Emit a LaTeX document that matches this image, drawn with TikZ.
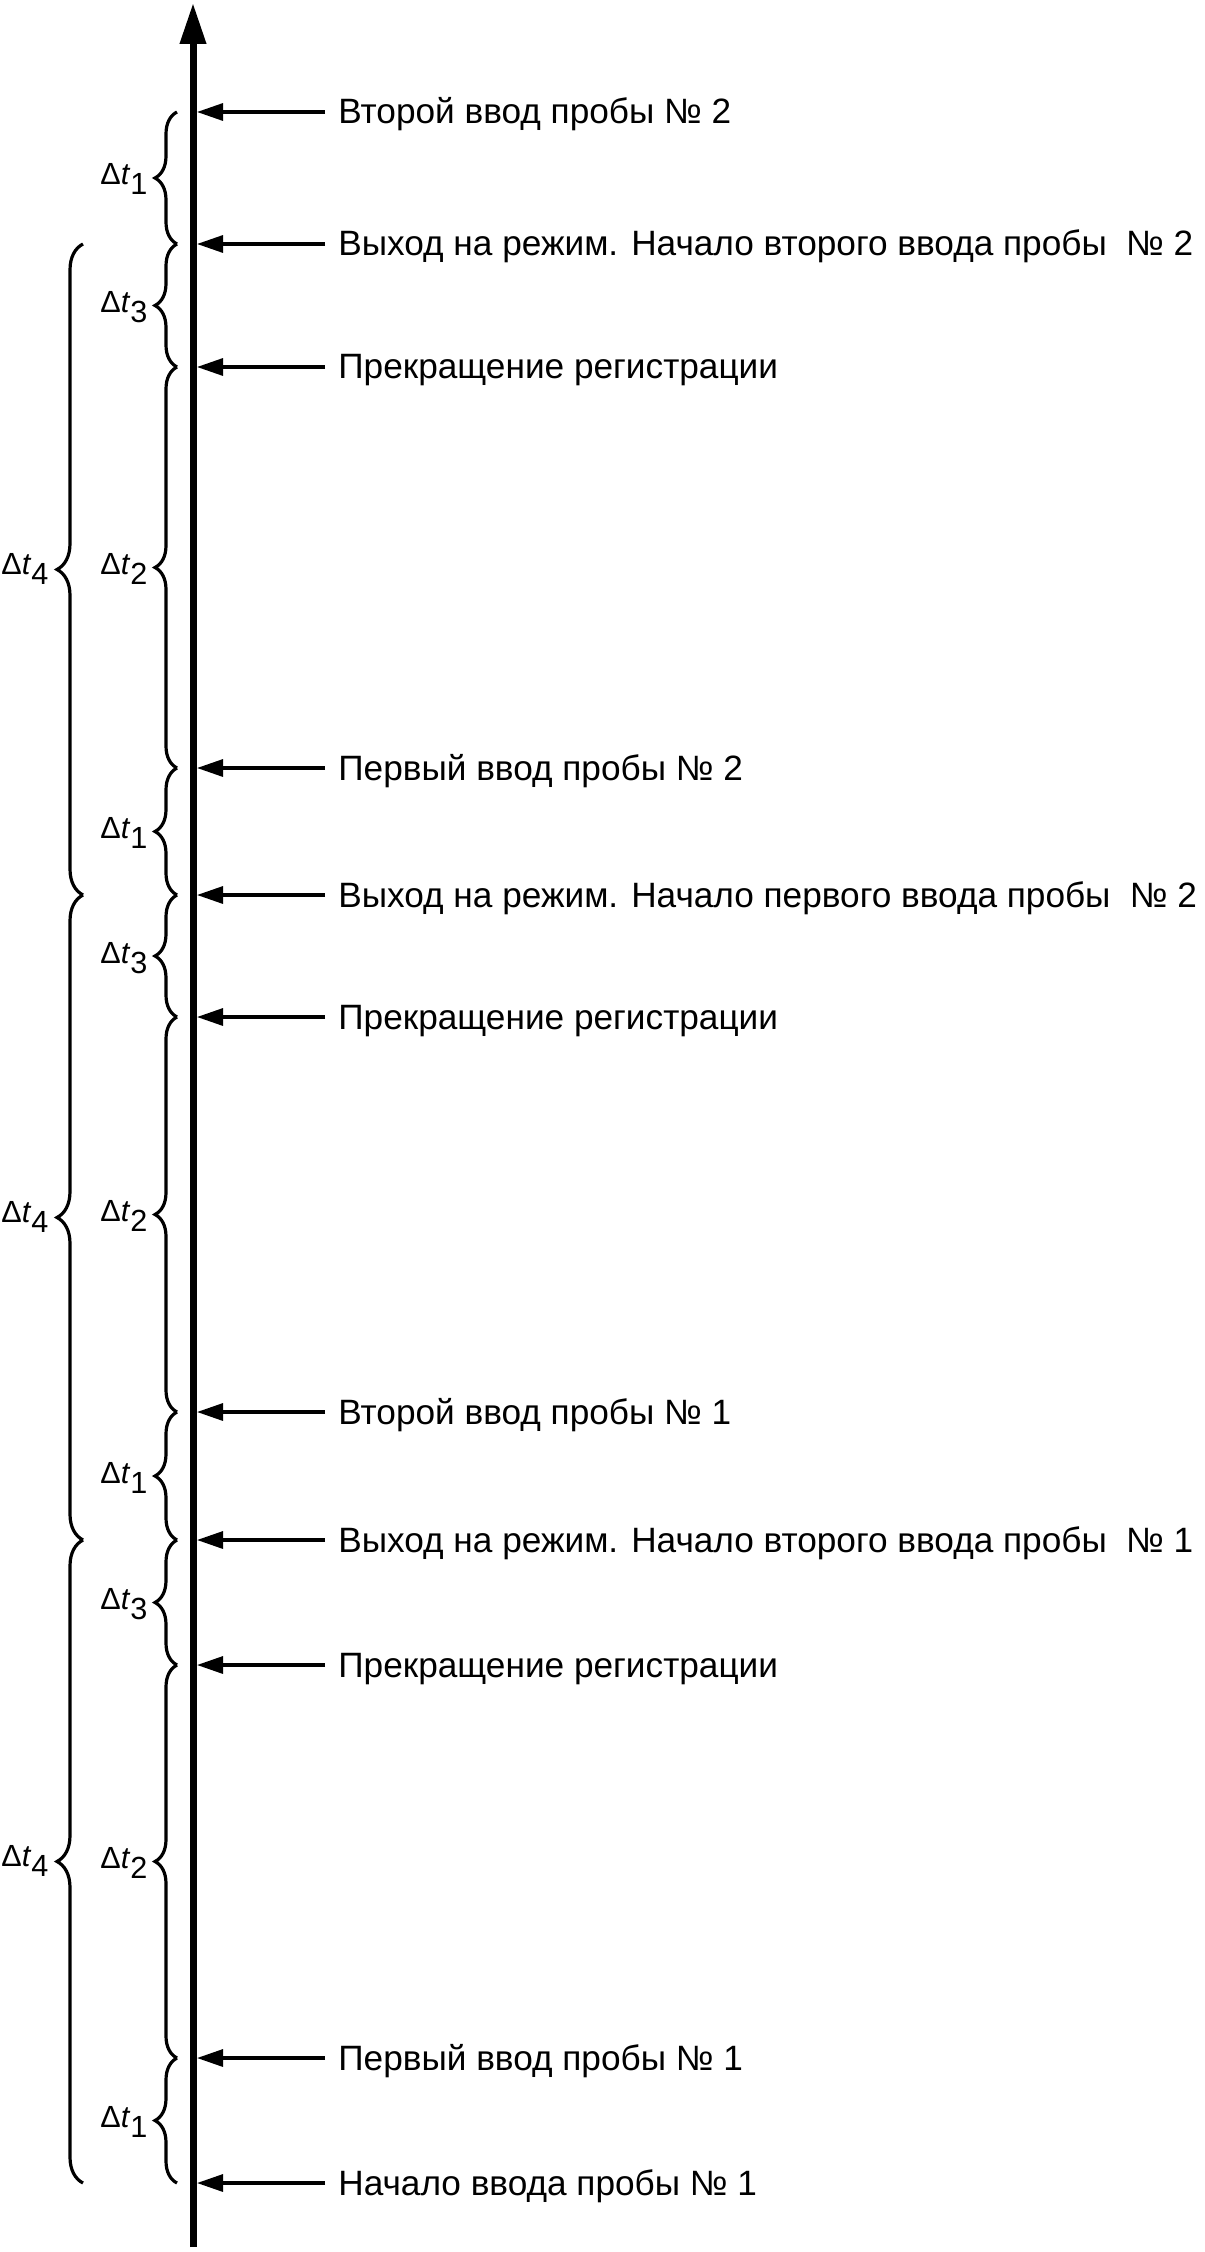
\documentclass[tikz,border=0pt]{standalone}
\usepackage{fontspec}
\setmainfont{Liberation Sans}
\usetikzlibrary{arrows.meta,positioning,decorations.pathreplacing,calc}

\begin{document}
\begin{tikzpicture}[x=0.5pt,y=-0.5pt,
  axisline/.style={line width=3.5pt, -{Triangle[length=20.5pt,width=12.5pt]}},
  evarrow/.style={line width=1.6pt, -{Triangle[length=13pt,width=8.5pt]}},
  evtext/.style={anchor=base west, inner xsep=6.5pt, inner ysep=0pt, font=\fontsize{17.6}{21}\selectfont},
  brc/.style={decorate, decoration={brace, amplitude=11pt}, line width=1.6pt},
  brcout/.style={decorate, decoration={brace, amplitude=13pt}, line width=1.6pt},
  dtlabel/.style={anchor=base east, inner sep=0pt, font=\fontsize{15.3}{18}\selectfont}]
  \useasboundingbox (0,0) rectangle (1204,2252);

  % Time axis
  \draw[axisline] (193,2247) -- (193,3);

  % Events
  \foreach \i/\y/\txt in {
    1/112/{Второй ввод пробы № 2},
    2/244/{Выход на режим. Начало второго ввода пробы\hspace{0.55em}№ 2},
    3/367/{Прекращение регистрации},
    4/768/{Первый ввод пробы № 2},
    5/895/{Выход на режим. Начало первого ввода пробы\hspace{0.55em}№ 2},
    6/1017/{Прекращение регистрации},
    7/1412/{Второй ввод пробы № 1},
    8/1540/{Выход на режим. Начало второго ввода пробы\hspace{0.55em}№ 1},
    9/1665/{Прекращение регистрации},
    10/2058/{Первый ввод пробы № 1},
    11/2183/{Начало ввода пробы № 1}} {
    \coordinate (t\i) at (197,\y);
    \coordinate (b\i) at (177,\y);
    \coordinate (c\i) at (83,\y);
    \node[evtext] (e\i) at (325,\y+12) {\txt};
    \draw[evarrow] (e\i.base west |- t\i) -- (t\i);
  }

  % Short intervals
  \foreach \a/\b/\k in {2/1/1, 3/2/3, 4/3/2, 5/4/1, 6/5/3, 7/6/2, 8/7/1, 9/8/3, 10/9/2, 11/10/1}
    \draw[brc] (b\a) -- (b\b)
      node[dtlabel, midway, xshift=-14pt, yshift=-3.5pt] {Δ\textit{t}\raisebox{-5pt}{\k}};

  % Full cycles
  \foreach \a/\b in {5/2, 8/5, 11/8}
    \draw[brcout] (c\a) -- (c\b)
      node[dtlabel, midway, xshift=-16.5pt, yshift=-2.5pt] {Δ\textit{t}\raisebox{-5pt}{4}};
\end{tikzpicture}
\end{document}
